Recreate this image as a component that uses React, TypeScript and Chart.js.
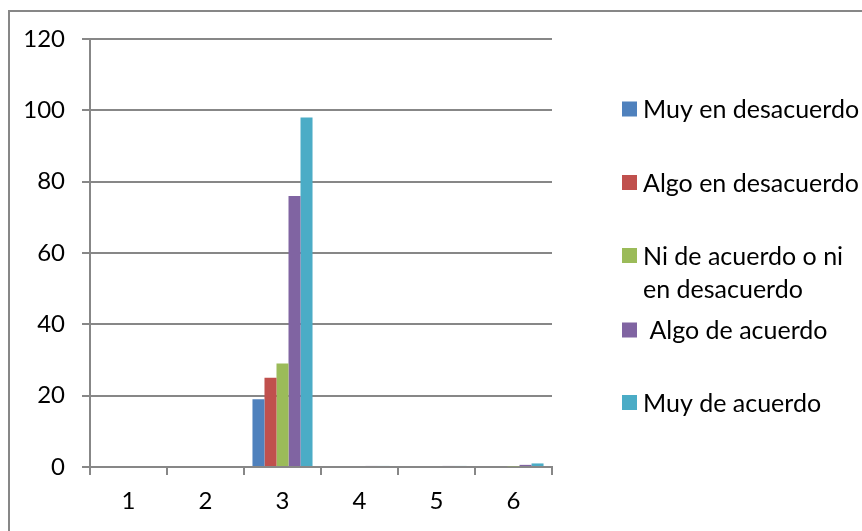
import React, { useEffect, useRef } from "react";
import { Chart, registerables } from "chart.js";

Chart.register(...registerables);

const categories = ["1", "2", "3", "4", "5", "6"];
const seriesNames = [
  "Muy en desacuerdo",
  "Algo en desacuerdo",
  "Ni de acuerdo o ni en desacuerdo",
  "Algo de acuerdo",
  "Muy de acuerdo",
];
const legendLines = [
  ["Muy en desacuerdo"],
  ["Algo en desacuerdo"],
  ["Ni de acuerdo o ni", "en desacuerdo"],
  [" Algo de acuerdo"],
  ["Muy de acuerdo"],
];
const muyEnDesacuerdo = [0, 0, 19, 0, 0, 0];
const algoEnDesacuerdo = [0, 0, 25, 0, 0, 0];
const niDeAcuerdo = [0, 0, 29, 0, 0, 0.2];
const algoDeAcuerdo = [0, 0, 76, 0.3, 0.3, 0.6];
const muyDeAcuerdo = [0, 0, 98, 0.3, 0.3, 1];
const seriesValues = [muyEnDesacuerdo, algoEnDesacuerdo, niDeAcuerdo, algoDeAcuerdo, muyDeAcuerdo];
const colors = ["#4F81BD", "#C0504D", "#9BBB59", "#8064A2", "#4BACC6"];
const yMin = 0;
const yMax = 120;
const yStep = 20;

const FONT = "Lato, 'Open Sans', sans-serif";

const framePlugin = {
  id: "frameLegend",
  beforeDraw(chart: any) {
    const ctx = chart.ctx;
    ctx.save();
    ctx.fillStyle = "#ffffff";
    ctx.fillRect(0, 0, chart.width, chart.height);
    ctx.strokeStyle = "#878787";
    ctx.lineWidth = 2;
    ctx.strokeRect(9, 11, chart.width + 40, chart.height + 40);
    ctx.restore();
  },
  afterDraw(chart: any) {
    const ctx = chart.ctx;
    ctx.save();
    ctx.font = `25px ${FONT}`;
    ctx.textBaseline = "middle";
    ctx.textAlign = "left";
    const centers = [109, 182.5, 255.5, 330, 402.5];
    legendLines.forEach((lines, i) => {
      const cy = centers[i];
      ctx.fillStyle = colors[i];
      ctx.fillRect(622, cy - 7.5, 15, 15);
      ctx.fillStyle = "#000";
      lines.forEach((t, j) => {
        ctx.fillText(t, 643, cy + 1 + j * 33);
      });
    });
    ctx.restore();
  },
};

export default function App() {
  const ref = useRef<HTMLCanvasElement | null>(null);
  useEffect(() => {
    if (!ref.current) return;
    const chart = new Chart(ref.current, {
      type: "bar",
      data: {
        labels: categories,
        datasets: seriesValues.map((vals, i) => ({
          label: seriesNames[i],
          data: vals,
          backgroundColor: colors[i],
          borderWidth: 0,
          categoryPercentage: 0.78,
          barPercentage: 1,
        })),
      },
      options: {
        responsive: false,
        animation: false,
        devicePixelRatio: 1,
        layout: { padding: { left: 0, top: 39, right: 310, bottom: 0 } },
        plugins: {
          legend: { display: false },
          tooltip: { enabled: false },
        },
        scales: {
          x: {
            afterFit: (s: any) => {
              s.height = 64;
            },
            grid: {
              drawOnChartArea: false,
              drawTicks: true,
              tickLength: 8,
              color: "#878787",
              lineWidth: 2,
              offset: true,
            },
            border: { display: true, color: "#878787", width: 2 },
            ticks: {
              color: "#000",
              font: { family: FONT, size: 24 },
              padding: 12,
            },
          },
          y: {
            min: yMin,
            max: yMax,
            afterFit: (s: any) => {
              s.width = 90;
            },
            grid: {
              color: "#878787",
              lineWidth: 2,
              tickLength: 8,
              drawTicks: true,
            },
            border: { display: true, color: "#878787", width: 2 },
            ticks: {
              stepSize: yStep,
              color: "#000",
              font: { family: FONT, size: 24 },
              padding: 17,
            },
          },
        },
      },
      plugins: [framePlugin],
    });
    return () => chart.destroy();
  }, []);
  return (
    <div style={{ position: "absolute", left: 0, top: 0, width: 862, height: 531 }}>
      <canvas ref={ref} width={862} height={531} style={{ width: 862, height: 531, display: "block" }} />
    </div>
  );
}
